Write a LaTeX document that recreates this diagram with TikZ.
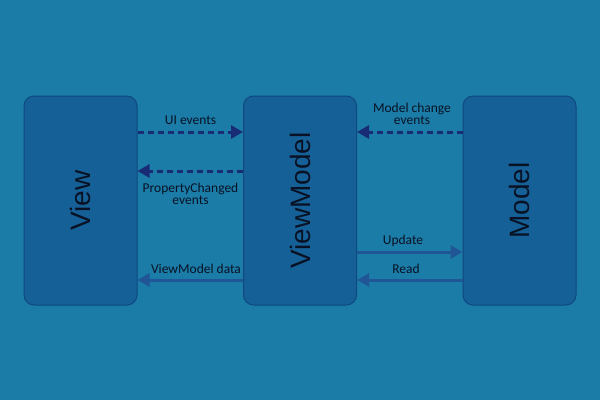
\documentclass[tikz,border=0pt]{standalone}
\usepackage{fontspec}
\setmainfont{Carlito}
\newfontfamily\bigfont{Liberation Sans}
\usetikzlibrary{arrows.meta}

\definecolor{bgblue}{RGB}{28,124,168}
\definecolor{boxblue}{RGB}{22,96,152}
\definecolor{boxedge}{RGB}{16,72,128}
\definecolor{evtblue}{RGB}{24,44,118}
\definecolor{datablue}{RGB}{32,86,150}
\definecolor{inkdark}{RGB}{8,18,36}

\begin{document}
\begin{tikzpicture}[x=1pt,y=-1pt,
    layer/.style={draw=boxedge,fill=boxblue,line width=1pt,rounded corners=10pt,
        minimum width=113pt,minimum height=209pt,inner sep=0pt},
    title/.style={rotate=90,text=inkdark,font=\bigfont\fontsize{28}{30}\selectfont},
    evt/.style={evtblue,line width=3pt,dash pattern=on 6pt off 4pt,
        -{Triangle[length=12pt,width=13pt]}},
    data/.style={datablue,line width=3pt,-{Triangle[length=12pt,width=13pt]}},
    lbl/.style={text=inkdark,font=\fontsize{13.5}{15}\selectfont,align=center}]
    \fill[bgblue] (0,0) rectangle (600,400);
    \useasboundingbox (0,0) rectangle (600,400);
    % the three layers
    \node[layer] (view) at (80.5,200.5) {};
    \node[layer] (vm) at (300,200.5) {};
    \node[layer] (model) at (519.5,200.5) {};
    \node[title] at (view) {View};
    \node[title] at (vm) {ViewModel};
    \node[title] at (model) {Model};
    % view <-> viewmodel
    \draw[evt] (view.east |- 0,132) -- (vm.west |- 0,132);
    \node[lbl] (uiev) at (190.5,120) {UI events};
    \draw[evt] (vm.west |- 0,171) -- (view.east |- 0,171);
    \node[lbl] (propev) at (190.5,194) {PropertyChanged\\[-3pt]events};
    \draw[data] (vm.west |- 0,280) -- (view.east |- 0,280);
    \node[lbl] (vmdata) at (196,269) {ViewModel data};
    % viewmodel <-> model
    \draw[evt] (model.west |- 0,132) -- (vm.east |- 0,132);
    \node[lbl] (modelev) at (412,114) {Model change\\[-3pt]events};
    \draw[data] (vm.east |- 0,252) -- (model.west |- 0,252);
    \node[lbl] (upd) at (403,241) {Update};
    \draw[data] (model.west |- 0,280) -- (vm.east |- 0,280);
    \node[lbl] (rd) at (406,269) {Read};
\end{tikzpicture}
\end{document}
